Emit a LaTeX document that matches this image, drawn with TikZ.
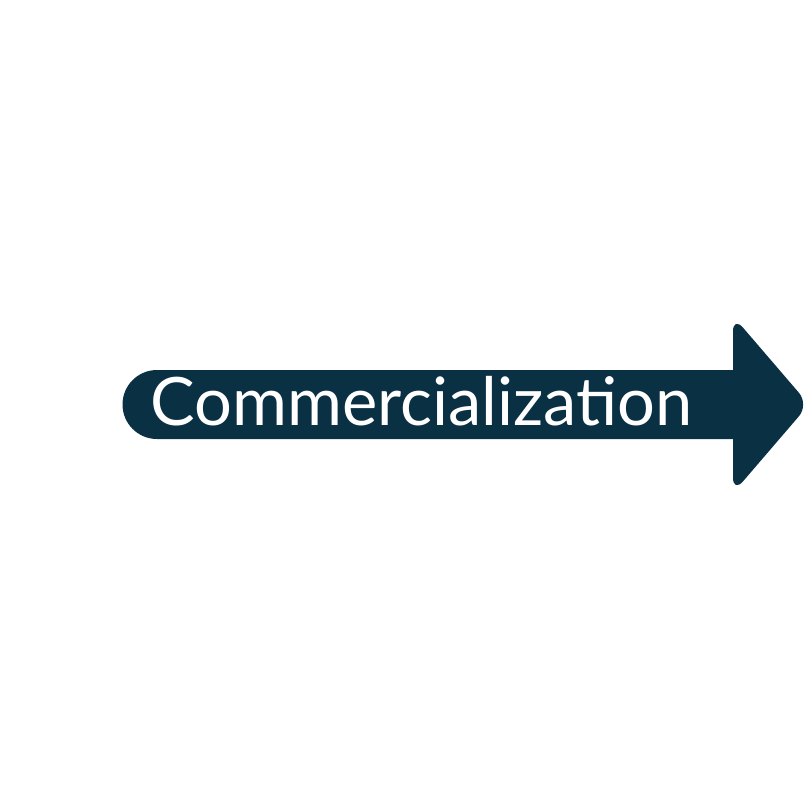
\documentclass[tikz,border=0pt]{standalone}
\usepackage{fontspec}
\setmainfont{Lato}
\definecolor{navy}{HTML}{0A3044}
\begin{document}
\begin{tikzpicture}[x=0.025cm,y=-0.025cm]
	\tikzstyle{arrowbody}=[fill=navy,draw=none]
	\tikzstyle{phase}=[text=white,font=\fontsize{47.5}{52}\selectfont,anchor=base west,inner sep=0pt]
	\useasboundingbox (0,0) rectangle (804,804);
	\begin{scope}
		\fill[arrowbody] (157,370) -- (733,370)
			[rounded corners=11] -- (733,316) -- (809,404.5) -- (733,493)
			[sharp corners] -- (733,439) -- (157,439)
			arc[start angle=90,end angle=270,radius=34.5] -- cycle;
		\node [phase] (comm) at (150,425) {Commercialization};
	\end{scope}
\end{tikzpicture}
\end{document}
